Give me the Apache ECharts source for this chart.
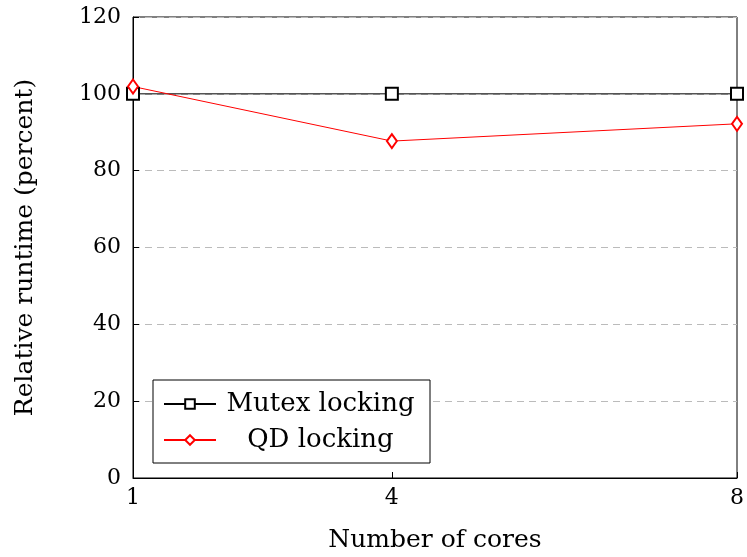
<!DOCTYPE html>
<html><head><meta charset="utf-8">
<script src="https://cdn.jsdelivr.net/npm/echarts@6/dist/echarts.min.js"></script>
<style>html,body{margin:0;padding:0;background:#fff}#c{width:747px;height:557px}</style>
</head><body><div id="c"></div>
<script>
const cores = [1, 4, 8];
const mutex = [100, 100, 100];
const qd = [101.9, 87.7, 92.2];
const xTicks = [1, 4, 8];
const FONT = 'DejaVu Serif';
const chart = echarts.init(document.getElementById('c'), null, {renderer: 'canvas'});
chart.setOption({
  animation: false,
  grid: {left: 133, right: 10, top: 17, bottom: 79, outerBoundsMode: 'none', containLabel: false,
         show: true, borderColor: '#000', borderWidth: 1, backgroundColor: 'transparent'},
  xAxis: {
    type: 'value', min: 1, max: 8,
    name: 'Number of cores', nameLocation: 'middle', nameGap: 50,
    nameTextStyle: {fontFamily: FONT, fontSize: 25, color: '#000'},
    axisLine: {show: true, lineStyle: {color: '#000'}},
    axisTick: {show: true, inside: true, length: 6, customValues: xTicks, lineStyle: {color: '#000'}},
    axisLabel: {customValues: xTicks, fontFamily: FONT, fontSize: 22, color: '#000', margin: 9},
    splitLine: {show: false}
  },
  yAxis: {
    type: 'value', min: 0, max: 120, interval: 20,
    name: 'Relative runtime (percent)', nameLocation: 'middle', nameGap: 95,
    nameTextStyle: {fontFamily: FONT, fontSize: 25, color: '#000'},
    axisLine: {show: true, lineStyle: {color: '#000'}},
    axisTick: {show: true, inside: true, length: 6, lineStyle: {color: '#000'}},
    axisLabel: {fontFamily: FONT, fontSize: 22, color: '#000', margin: 12},
    splitLine: {show: true, lineStyle: {color: '#bbb', type: [7, 5], width: 1}}
  },
  legend: {
    orient: 'vertical', left: 153, top: 380,
    backgroundColor: '#fff', borderColor: '#000', borderWidth: 1,
    padding: [11, 10, 10, 10], itemGap: 10, itemWidth: 52, itemHeight: 12,
    textStyle: {fontFamily: FONT, fontSize: 26, color: '#000'},
    formatter: function (n) { return '{a|' + n + '}'; },
    data: ['Mutex locking', 'QD locking']
  },
  series: [
    {name: 'Mutex locking', type: 'line', data: cores.map((c, i) => [c, mutex[i]]),
     symbol: 'emptyRect', symbolSize: 12, color: '#000',
     lineStyle: {color: '#000', width: 1}, itemStyle: {color: '#000', borderColor: '#000', borderWidth: 1.2}},
    {name: 'QD locking', type: 'line', data: cores.map((c, i) => [c, qd[i]]),
     symbol: 'emptyDiamond', symbolSize: [10, 14], color: '#f00',
     lineStyle: {color: '#f00', width: 1}, itemStyle: {color: '#f00', borderColor: '#f00', borderWidth: 1.2}}
  ]
});
chart.setOption({legend: {textStyle: {rich: {a: {fontFamily: FONT, fontSize: 26, color: '#000', width: 199, align: 'center', lineHeight: 26}}}}});
</script></body></html>
